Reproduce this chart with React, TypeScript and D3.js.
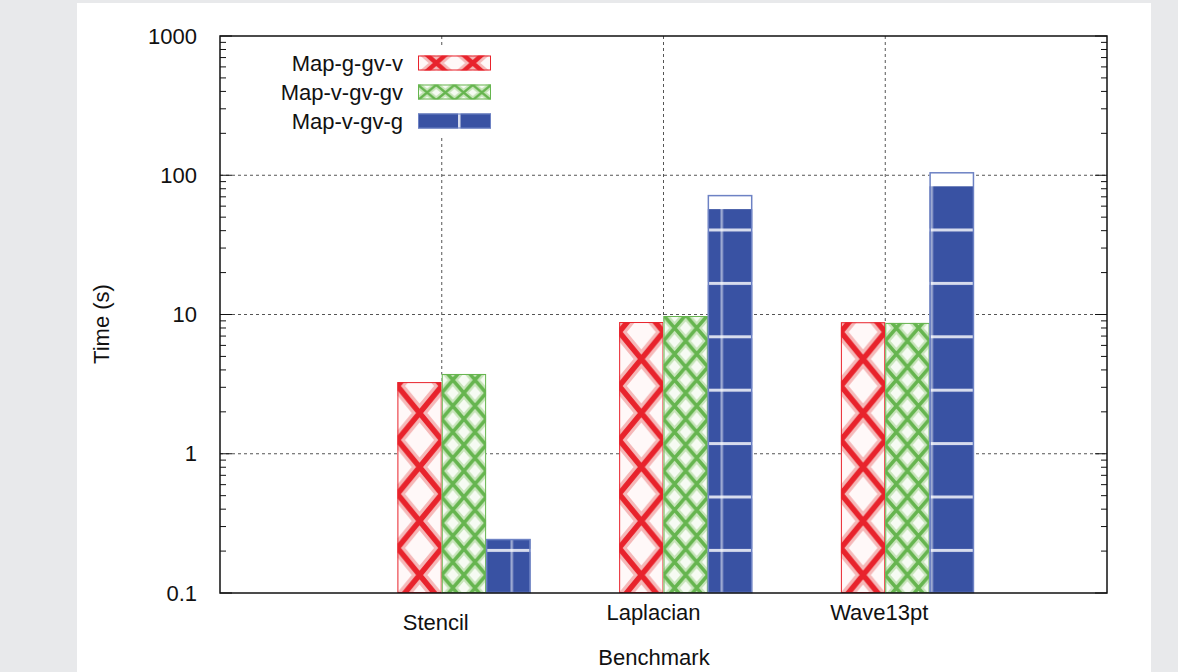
import React from "react";
import * as d3 from "d3";

// benchmark categories and the three mapping variants (time in seconds)
const categories = ["Stencil", "Laplacian", "Wave13pt"];
const seriesNames = ["Map-g-gv-v", "Map-v-gv-gv", "Map-v-gv-g"];
const mapGGvV = [3.27, 8.83, 8.8];
const mapVGvGv = [3.74, 9.75, 8.7];
const mapVGvG = [0.244, 72, 105];
const yTicks = [0.1, 1, 10, 100, 1000];
const yTickLabels = ["0.1", "1", "10", "100", "1000"];

const series = [mapGGvV, mapVGvGv, mapVGvG];

const W = 1178;
const H = 672;
const margin = { top: 36, right: 71, bottom: 79, left: 220 };
const font = "'Liberation Sans', Arial, Helvetica, sans-serif";

const RED = "#e8232c";
const GREEN = "#66b54f";
const BLUE = "#3952a3";

export default function App() {
  const x = d3.scaleLinear().domain([0, 4]).range([margin.left, W - margin.right]);
  const y = d3.scaleLog().domain([0.1, 1000]).range([H - margin.bottom, margin.top]);
  const bw = x(0.2) - x(0);
  const left = x(0);
  const right = x(4);
  const top = y(1000);
  const bottom = y(0.1);

  const minor: number[] = [];
  [0.1, 1, 10, 100].forEach((d) => {
    for (let m = 2; m <= 9; m++) minor.push(d * m);
  });

  const fills = ["url(#redX)", "url(#greenX)", "url(#blueG)"];
  const strokes = [RED, GREEN, "#6d82c4"];
  const legendFills = ["url(#legRed)", "url(#legGreen)", "url(#legBlue)"];

  // label nudges (the original tick labels are not exactly centred)
  const labelNudge = [
    { dx: -6, dy: 10 },
    { dx: -10, dy: 0 },
    { dx: -6, dy: 0 },
  ];

  return (
    <svg
      width={W}
      height={H}
      style={{ position: "fixed", left: 0, top: 0, background: "#e8e9eb" }}
      fontFamily={font}
    >
      <defs>
        <pattern id="redX" patternUnits="userSpaceOnUse" x={x(1) - bw} y={440} width={bw} height={54}>
          <rect width={bw} height={54} fill="#fff8f8" />
          <path d={`M0,0L${bw},54M${bw},0L0,54`} stroke="#f5b8b8" strokeWidth={12} />
          <path d={`M0,0L${bw},54M${bw},0L0,54`} stroke={RED} strokeWidth={5.5} />
        </pattern>
        <pattern id="greenX" patternUnits="userSpaceOnUse" x={x(1)} y={315} width={bw / 2} height={26}>
          <rect width={bw / 2} height={26} fill="#f6fbf3" />
          <path d={`M0,0L${bw / 2},26M${bw / 2},0L0,26`} stroke="#c8e5bb" strokeWidth={8} />
          <path d={`M0,0L${bw / 2},26M${bw / 2},0L0,26`} stroke={GREEN} strokeWidth={3.5} />
        </pattern>
        <pattern id="blueG" patternUnits="userSpaceOnUse" x={510.5} y={228.5} width={52.5} height={53.4}>
          <rect width={52.5} height={53.4} fill={BLUE} />
          <rect width={2.5} height={53.4} fill="#fff" opacity={0.5} />
          <rect width={52.5} height={3} fill="#fff" opacity={0.8} />
        </pattern>
        <pattern id="legRed" patternUnits="userSpaceOnUse" x={418} y={47} width={36.5} height={32}>
          <rect width={36.5} height={32} fill="#fff8f8" />
          <path d="M0,0L36.5,32M36.5,0L0,32" stroke="#f5b8b8" strokeWidth={10} />
          <path d="M0,0L36.5,32M36.5,0L0,32" stroke={RED} strokeWidth={4.5} />
        </pattern>
        <pattern id="legGreen" patternUnits="userSpaceOnUse" x={418} y={85} width={18.25} height={15}>
          <rect width={18.25} height={15} fill="#f6fbf3" />
          <path d="M0,0L18.25,15M18.25,0L0,15" stroke="#c8e5bb" strokeWidth={6} />
          <path d="M0,0L18.25,15M18.25,0L0,15" stroke={GREEN} strokeWidth={2.5} />
        </pattern>
        <pattern id="legBlue" patternUnits="userSpaceOnUse" x={458} y={0} width={52.5} height={40}>
          <rect width={52.5} height={40} fill={BLUE} />
          <rect width={2.5} height={40} fill="#fff" opacity={0.8} />
        </pattern>
      </defs>

      {/* white panel */}
      <rect x={77} y={3} width={1074} height={H - 3} fill="#fff" />

      {/* grid */}
      <g stroke="#555" strokeWidth={1} strokeDasharray="3,3">
        {[1, 10, 100].map((t) => (
          <line key={"gy" + t} x1={left} x2={right} y1={y(t)} y2={y(t)} />
        ))}
        {categories.map((c, i) => (
          <line key={"gx" + c} x1={x(i + 1)} x2={x(i + 1)} y1={top} y2={bottom} />
        ))}
      </g>

      {/* bars */}
      {series.map((vals, s) =>
        vals.map((v, i) => {
          const bx = x(i + 1 + (s - 1) * 0.2);
          const by = y(v);
          const h = bottom - by;
          const gap = s === 2 && h > 150 ? 14 : 0;
          return (
            <g key={`b${s}-${i}`}>
              <rect x={bx} y={by} width={bw} height={h} fill="#fff" />
              <rect x={bx} y={by + gap} width={bw} height={h - gap} fill={fills[s]} />
              <rect
                x={bx + 0.5}
                y={by + 0.5}
                width={bw - 1}
                height={h - 1}
                fill="none"
                stroke={strokes[s]}
                strokeWidth={s === 2 ? 1.5 : 1}
              />
            </g>
          );
        })
      )}

      {/* legend */}
      <rect x={262} y={45} width={240} height={90} fill="#fff" />
      {seriesNames.map((n, s) => {
        const cy = 63 + s * 29;
        return (
          <g key={n}>
            <text x={403} y={cy} textAnchor="end" dominantBaseline="central" fontSize={22} fill="#111">
              {n}
            </text>
            <rect x={418} y={cy - 7.5} width={73} height={15} fill={legendFills[s]} />
            <rect x={418.5} y={cy - 7} width={72} height={14} fill="none" stroke={strokes[s]} strokeWidth={1} />
          </g>
        );
      })}

      {/* ticks */}
      <g stroke="#111" strokeWidth={1}>
        {minor.map((t) => (
          <g key={"m" + t}>
            <line x1={left} x2={left + 6} y1={y(t)} y2={y(t)} />
            <line x1={right} x2={right - 6} y1={y(t)} y2={y(t)} />
          </g>
        ))}
        {yTicks.map((t) => (
          <g key={"M" + t}>
            <line x1={left} x2={left + 12} y1={y(t)} y2={y(t)} />
            <line x1={right} x2={right - 12} y1={y(t)} y2={y(t)} />
          </g>
        ))}
      </g>

      {/* border */}
      <rect x={left} y={top} width={right - left} height={bottom - top} fill="none" stroke="#111" strokeWidth={1.5} />

      {/* tick labels */}
      {yTicks.map((t, i) => (
        <text key={"yl" + t} x={197} y={y(t)} textAnchor="end" dominantBaseline="central" fontSize={22} fill="#111">
          {yTickLabels[i]}
        </text>
      ))}
      {categories.map((c, i) => (
        <text
          key={"xl" + c}
          x={x(i + 1) + labelNudge[i].dx}
          y={620 + labelNudge[i].dy}
          textAnchor="middle"
          fontSize={22}
          fill="#111"
        >
          {c}
        </text>
      ))}

      {/* axis titles */}
      <text x={654} y={665} textAnchor="middle" fontSize={22} fill="#111">
        Benchmark
      </text>
      <text
        transform="translate(101,324) rotate(-90)"
        textAnchor="middle"
        dominantBaseline="central"
        fontSize={22}
        fill="#111"
      >
        Time (s)
      </text>
    </svg>
  );
}
